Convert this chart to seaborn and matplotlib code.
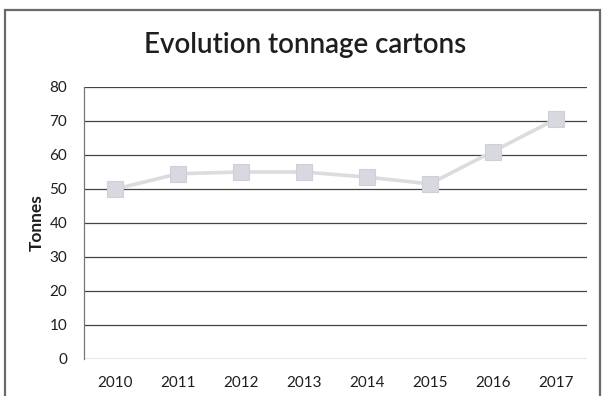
import matplotlib
matplotlib.use("Agg")
import matplotlib.pyplot as plt
import seaborn as sns
import pandas as pd
from matplotlib.patches import Rectangle

years = ["2010", "2011", "2012", "2013", "2014", "2015", "2016", "2017"]
tonnes = [50, 54.5, 55, 55, 53.5, 51.5, 61, 70.5]
y_ticks = [0, 10, 20, 30, 40, 50, 60, 70, 80]

df = pd.DataFrame({"Année": years, "Tonnes": tonnes})

sns.set_theme(style="white")
plt.rcParams["font.family"] = ["Lato", "DejaVu Sans"]

fig = plt.figure(figsize=(6.03, 3.96), dpi=100)
W, H = 603, 396
ax = fig.add_axes([84 / W, 37 / H, (587 - 84) / W, (359 - 87) / H])

# chart frame
fig.patches.append(Rectangle((5 / W, -0.05), (600 - 5) / W, 1 - 10 / H + 0.05,
                             transform=fig.transFigure, fill=False,
                             edgecolor="#6a6a6a", linewidth=1.6))

for v in y_ticks:
    ax.axhline(v, color="#444444", linewidth=0.9, zorder=1)

sns.lineplot(data=df, x="Année", y="Tonnes", ax=ax, color="#dcdcdf",
             linewidth=2.6, marker="s", markersize=12,
             markerfacecolor="#d8d8e0", markeredgecolor="#cfcfd8",
             markeredgewidth=0.8, zorder=3)

ax.set_xlim(-0.5, len(years) - 0.5)
ax.set_ylim(0, 80)
ax.set_yticks(y_ticks)
ax.set_yticklabels([str(v) for v in y_ticks])
ax.tick_params(axis="both", length=0, labelsize=11, colors="#1e1e1e")
ax.tick_params(axis="y", pad=12)
ax.tick_params(axis="x", pad=12)
ax.set_xlabel("")
ax.set_ylabel("Tonnes", fontsize=12.5, fontweight="bold", color="#1e1e1e")
ax.yaxis.set_label_coords((45 - 84) / (587 - 84), 0.5)

for s in ["top", "right", "bottom"]:
    ax.spines[s].set_visible(False)
ax.spines["left"].set_color("#777777")
ax.spines["left"].set_linewidth(0.9)

fig.text(305 / W, 1 - 45 / H, "Evolution tonnage cartons", ha="center", va="center",
         fontsize=20, fontweight="semibold", color="#1e1e1e")

fig.savefig("out.png", dpi=100)
